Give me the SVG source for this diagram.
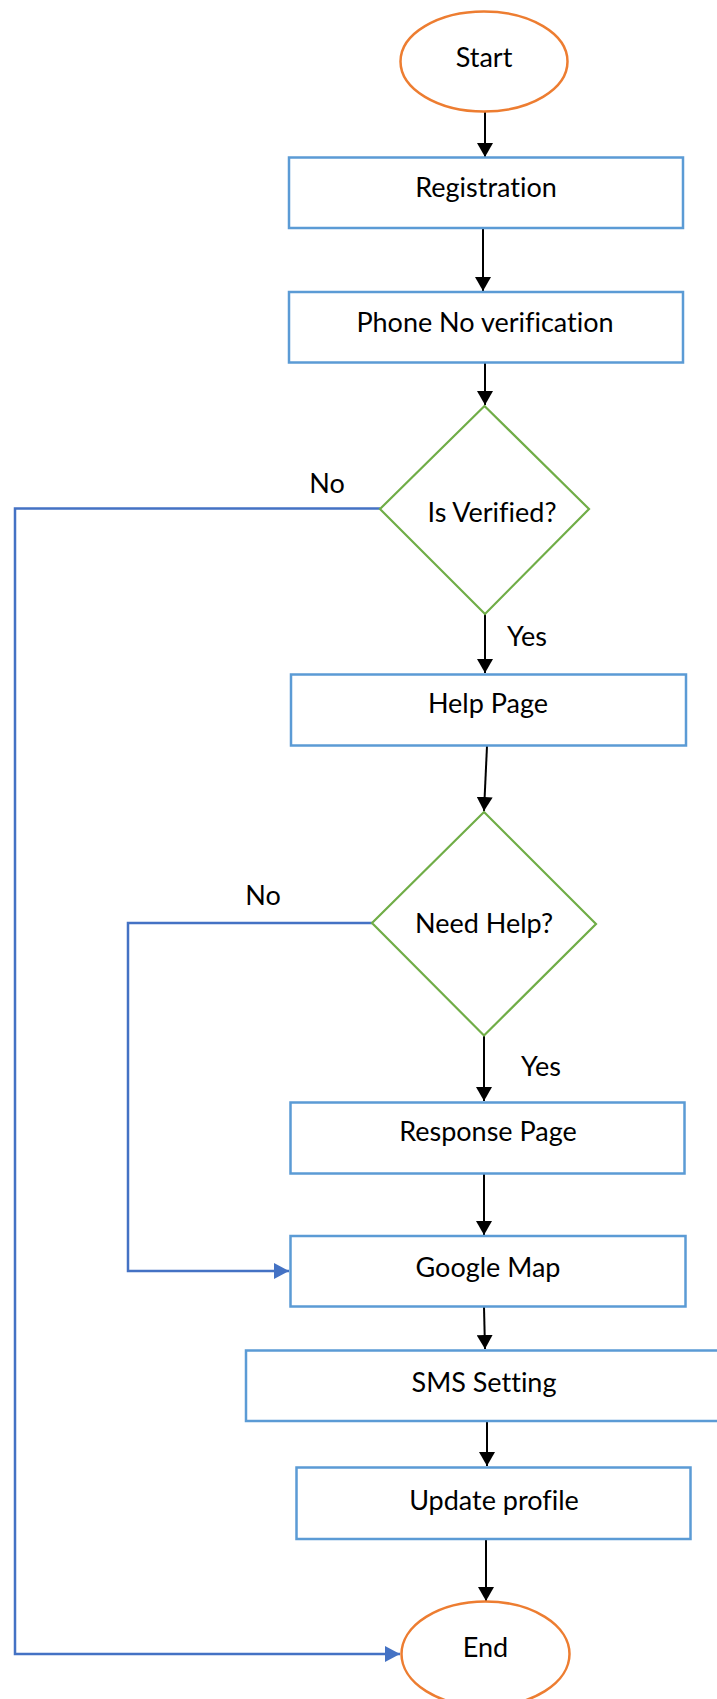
<svg xmlns="http://www.w3.org/2000/svg" width="717" height="1699" viewBox="0 0 717 1699">
  <style>
    text { font-family: Lato, "Open Sans", "Liberation Sans", sans-serif; font-size: 27px; fill: #000; text-anchor: middle; font-variant-ligatures: none; }
    .proc { fill: #fff; stroke: #5B9BD5; stroke-width: 2.5; }
    .term { fill: #fff; stroke: #ED7D31; stroke-width: 2.5; }
    .dec { fill: #fff; stroke: #70AD47; stroke-width: 2.2; }
    .flow { fill: none; stroke: #000; stroke-width: 2; marker-end: url(#arrow-black); }
    .back { fill: none; stroke: #4472C4; stroke-width: 2.5; marker-end: url(#arrow-blue); }
  </style>
  <defs>
    <marker id="arrow-black" viewBox="0 0 14 16" refX="14" refY="8" markerWidth="14" markerHeight="16" markerUnits="userSpaceOnUse" orient="auto">
      <path d="M0,0 L14,8 L0,16 Z" fill="#000"/>
    </marker>
    <marker id="arrow-blue" viewBox="0 0 15 16" refX="15" refY="8" markerWidth="15" markerHeight="16" markerUnits="userSpaceOnUse" orient="auto">
      <path d="M0,0 L15,8 L0,16 Z" fill="#4472C4"/>
    </marker>
  </defs>
  <rect width="717" height="1699" fill="#fff"/>

  <!-- connectors -->
  <g id="connectors">
    <path class="flow" d="M485,111 L485,157"/>
    <path class="flow" d="M483,228 L483,291"/>
    <path class="flow" d="M485,363 L485,405"/>
    <path class="flow" d="M485,614 L485,673"/>
    <path class="flow" d="M487,746 L484,811"/>
    <path class="flow" d="M484,1036 L484,1101"/>
    <path class="flow" d="M484,1174 L484,1235"/>
    <path class="flow" d="M484,1307 L485,1349"/>
    <path class="flow" d="M487,1422 L487,1466"/>
    <path class="flow" d="M486,1540 L486,1601"/>
    <path class="back" d="M380,508.5 L15,508.5 L15,1654 L400,1654"/>
    <path class="back" d="M372,923 L128,923 L128,1271 L289,1271"/>
    <text x="327" y="493">No</text>
    <text x="263" y="905">No</text>
    <text x="527" y="646">Yes</text>
    <text x="541" y="1076">Yes</text>
  </g>

  <g id="start">
    <ellipse class="term" cx="484" cy="61.5" rx="83.5" ry="50"/>
    <text x="484" y="67">Start</text>
  </g>
  <g id="registration">
    <rect class="proc" x="289" y="157.5" width="394" height="70.5"/>
    <text x="486" y="197">Registration</text>
  </g>
  <g id="phone-verification">
    <rect class="proc" x="289" y="292" width="394" height="70.5"/>
    <text x="485" y="332">Phone No verification</text>
  </g>
  <g id="is-verified">
    <polygon class="dec" points="484.5,406 589,509 485,614 380,509"/>
    <text x="492" y="522">Is Verified?</text>
  </g>
  <g id="help-page">
    <rect class="proc" x="291" y="674.5" width="395" height="71"/>
    <text x="488" y="713">Help Page</text>
  </g>
  <g id="need-help">
    <polygon class="dec" points="484,812 596,924 484,1035.5 372,923"/>
    <text x="484" y="933">Need Help?</text>
  </g>
  <g id="response-page">
    <rect class="proc" x="290.5" y="1102.5" width="394" height="71"/>
    <text x="488" y="1141">Response Page</text>
  </g>
  <g id="google-map">
    <rect class="proc" x="290.5" y="1236" width="395" height="70.5"/>
    <text x="488" y="1277">Google Map</text>
  </g>
  <g id="sms-setting">
    <rect class="proc" x="246" y="1350.5" width="480" height="70.5"/>
    <text x="484" y="1392">SMS Setting</text>
  </g>
  <g id="update-profile">
    <rect class="proc" x="296.5" y="1467.5" width="394" height="71.5"/>
    <text x="494" y="1510">Update profile</text>
  </g>
  <g id="end">
    <ellipse class="term" cx="485.5" cy="1654" rx="84" ry="52.5"/>
    <text x="485.5" y="1657">End</text>
  </g>
</svg>
